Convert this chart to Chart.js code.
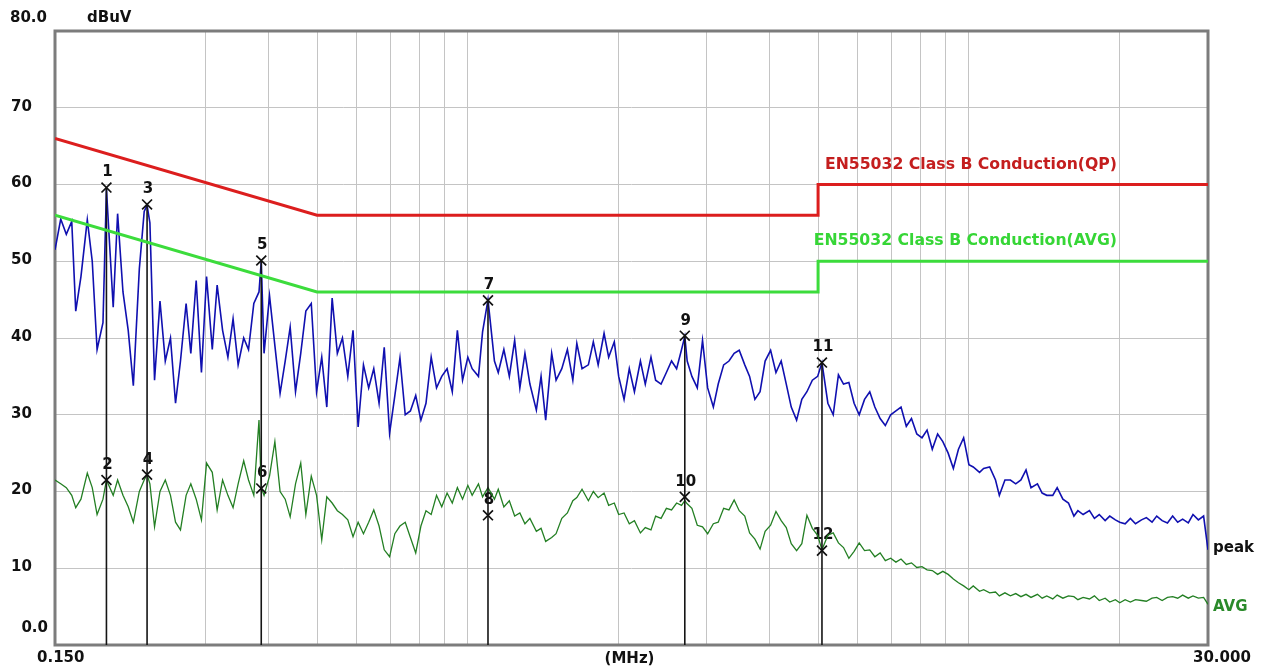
<!DOCTYPE html>
<html>
<head>
<meta charset="utf-8">
<script src="https://cdn.jsdelivr.net/npm/chart.js@4.4.1/dist/chart.umd.min.js"></script>
<style>
html,body{margin:0;padding:0;background:#ffffff;}
#wrap{width:1266px;height:670px;position:relative;}
</style>
</head>
<body>
<div id="wrap"><canvas id="c" width="1266" height="670"></canvas></div>
<script>
// ---- data ----
const freqMHz = [
0.150,0.154,0.158,0.162,0.165,0.169,0.174,0.178,0.182,0.187,
0.190,0.196,0.200,0.205,0.210,0.215,0.221,0.226,0.229,0.232,
0.237,0.243,0.249,0.255,0.261,0.267,0.274,0.280,0.287,0.294,
0.301,0.309,0.316,0.324,0.332,0.340,0.348,0.357,0.365,0.374,
0.383,0.387,0.392,0.402,0.412,0.422,0.432,0.442,0.453,0.464,
0.475,0.487,0.499,0.511,0.523,0.536,0.549,0.562,0.576,0.590,
0.604,0.619,0.634,0.649,0.665,0.681,0.698,0.715,0.732,0.750,
0.768,0.787,0.806,0.825,0.845,0.866,0.887,0.909,0.931,0.953,
0.976,1.00,1.02,1.05,1.07,1.097,1.13,1.15,1.18,1.21,
1.24,1.27,1.30,1.33,1.37,1.40,1.43,1.47,1.50,1.54,
1.58,1.62,1.65,1.69,1.74,1.78,1.82,1.87,1.91,1.96,
2.00,2.05,2.10,2.15,2.21,2.26,2.32,2.37,2.43,2.49,
2.55,2.61,2.67,2.71,2.74,2.80,2.87,2.94,3.01,3.09,
3.16,3.24,3.32,3.40,3.48,3.57,3.65,3.74,3.83,3.92,
4.02,4.12,4.22,4.32,4.42,4.53,4.64,4.75,4.87,4.99,
5.09,5.23,5.36,5.49,5.62,5.76,5.90,6.04,6.19,6.34,
6.49,6.65,6.81,6.98,7.15,7.32,7.50,7.68,7.87,8.06,
8.25,8.45,8.66,8.87,9.09,9.31,9.53,9.76,10.0,10.2,
10.5,10.7,11.0,11.3,11.5,11.8,12.1,12.4,12.7,13.0,
13.3,13.7,14.0,14.3,14.7,15.0,15.4,15.8,16.2,16.5,
16.9,17.4,17.8,18.2,18.7,19.1,19.6,20.0,20.5,21.0,
21.5,22.1,22.6,23.2,23.7,24.3,24.9,25.5,26.1,26.7,
27.4,28.0,28.7,29.4,30.0
];

const peakDbuv = [
51.5,55.5,53.5,55.2,43.5,48,55.4,50,38.5,42,
59.4,44,56.2,46,41,33.8,49,56.5,57.3,55,
34.5,44.8,37,40,31.5,37,44.5,38,47.5,35.5,
48,38.5,46.9,41,37.5,42.5,36.5,40,38.5,44.5,
46,50,38,45.5,39,32.8,37,41.4,33,38,
43.5,44.5,33,37.5,31,45.2,38,40,35,41,
28.4,36.5,33.5,36,31.5,38.8,27.6,32.5,37.4,30,
30.5,32.5,29.3,31.5,37.5,33.5,35,36,33,41,
34.5,37.5,36,35,40.8,45,37,35.5,38.5,35,
39.7,33.5,38,34,30.6,35,29.3,38,34.5,36,
38.5,34.5,39.3,36,36.5,39.5,36.5,40.6,37.5,39.5,
35,32,36,33,37,34,37.5,34.5,34,35.5,
37,36,38.5,40.2,37,35,33.5,39.7,33.5,31,
34,36.5,37,38,38.4,36.5,35,32,33,37,
38.4,35.5,37,34,31,29.3,32,33,34.5,35,
36.8,31.5,30,35.2,34,34.2,31.5,30,32,33,
31,29.5,28.6,30,30.5,31,28.5,29.5,27.5,27,
28,25.5,27.5,26.5,25,23,25.5,27,23.5,23.2,
22.5,23,23.2,21.5,19.5,21.5,21.5,21,21.5,22.8,
20.5,21,19.8,19.5,19.5,20.5,19,18.5,16.8,17.5,
17,17.5,16.5,17,16.2,16.8,16.3,16,15.8,16.5,
15.8,16.3,16.6,16,16.8,16.2,15.9,16.8,16,16.4,
15.9,17,16.3,16.8,12.4
];

const avgDbuv = [
21.5,21,20.5,19.5,17.9,19,22.4,20.5,17,19,
21.5,19.5,21.5,19.5,18,16,20,21.5,22.2,21,
15.4,20,21.5,19.5,16,15,19.5,21,19,16.3,
23.7,22.5,17.6,21.5,19.5,17.9,21,24,21.5,19.5,
29.3,20.5,19.5,22,26.5,20,19,16.7,21,23.7,
17,22,19.5,13.7,19.3,18.5,17.5,17,16.3,14.1,
16,14.5,16,17.6,15.5,12.4,11.5,14.5,15.5,16,
14,12,15.5,17.5,17,19.5,18,19.8,18.5,20.5,
19,20.8,19.5,21,19.3,20.5,19,20.3,18,18.8,
16.8,17.2,15.8,16.5,14.8,15.2,13.5,14,14.5,16.5,
17.2,18.8,19.2,20.3,18.8,20,19.2,19.8,18.2,18.5,
17,17.2,15.8,16.2,14.6,15.3,15,16.8,16.5,17.8,
17.6,18.5,18.2,18.8,18.4,17.8,15.6,15.4,14.5,15.8,
16,17.8,17.6,18.9,17.5,16.8,14.6,13.8,12.5,14.8,
15.6,17.4,16.2,15.3,13.2,12.3,13.2,16.9,15.2,14.3,
12.4,14.3,14.6,13.3,12.7,11.3,12.2,13.3,12.3,12.4,
11.5,12,11,11.3,10.8,11.2,10.5,10.7,10.1,10.2,
9.8,9.7,9.2,9.6,9.2,8.6,8.1,7.7,7.2,7.7,
7,7.2,6.8,6.9,6.4,6.8,6.4,6.7,6.3,6.6,
6.2,6.6,6.1,6.4,6,6.5,6.1,6.4,6.3,5.9,
6.2,6,6.4,5.8,6.1,5.6,5.9,5.5,5.9,5.6,
5.9,5.8,5.7,6.1,6.2,5.8,6.2,6.3,6.1,6.5,
6.1,6.4,6.1,6.2,5.3
];

const qpLimitFreq = [0.15, 0.5, 5, 5, 30];
const qpLimitDbuv = [66, 56, 56, 60, 60];
const avLimitFreq = [0.15, 0.5, 5, 5, 30];
const avLimitDbuv = [56, 46, 46, 50, 50];

const markerNo   = [1, 2, 3, 4, 5, 6, 7, 8, 9, 10, 11, 12];
const markerFreq = [0.190, 0.190, 0.229, 0.229, 0.387, 0.387, 1.097, 1.097, 2.71, 2.71, 5.09, 5.09];
const markerDbuv = [59.6, 21.5, 57.4, 22.2, 50.1, 20.4, 44.9, 16.9, 40.3, 19.3, 36.8, 12.3];

const xGridMHz = [0.3,0.4,0.5,0.6,0.7,0.8,0.9,1,2,3,4,5,6,7,8,9,10,20];
const yTickValues = [0,10,20,30,40,50,60,70,80];
const yTickLabels = ['0.0','10','20','30','40','50','60','70','80.0'];
const xEdgeValues = [0.15, 30];
const xEdgeLabels = ['0.150', '30.000'];
const yUnit = 'dBuV';
const xUnit = '(MHz)';
const qpLimitName = 'EN55032 Class B Conduction(QP)';
const avLimitName = 'EN55032 Class B Conduction(AVG)';
const peakName = 'peak';
const avgName = 'AVG';

// ---- build datasets ----
const pairs = (xs, ys) => xs.map((x, i) => ({x: x, y: ys[i]}));

const datasets = [];
datasets.push({label:'markers', data: pairs(markerFreq, markerDbuv), showLine:false,
  pointStyle:'crossRot', pointRadius:7, pointBorderColor:'#111', pointBorderWidth:1.7,
  pointBackgroundColor:'#111', order:0});
datasets.push({label:qpLimitName, data: pairs(qpLimitFreq, qpLimitDbuv), borderColor:'#dc1e1e',
  borderWidth:3, pointRadius:0, order:1});
datasets.push({label:avLimitName, data: pairs(avLimitFreq, avLimitDbuv), borderColor:'#3cdc3c',
  borderWidth:3, pointRadius:0, order:1});
for (let i = 0; i < markerNo.length; i += 2) {
  datasets.push({label:'mline'+markerNo[i], data:[{x:markerFreq[i], y:markerDbuv[i]}, {x:markerFreq[i], y:0}],
    borderColor:'#151515', borderWidth:1.6, pointRadius:0, order:2});
}
datasets.push({label:peakName, data: pairs(freqMHz, peakDbuv), borderColor:'#1010b0',
  borderWidth:1.6, pointRadius:0, order:3});
datasets.push({label:avgName, data: pairs(freqMHz, avgDbuv), borderColor:'#237f23',
  borderWidth:1.3, pointRadius:0, order:4});

const FONT = '"DejaVu Sans", sans-serif';

const decor = {
  id:'decor',
  beforeDatasetsDraw(chart) {
    const ctx = chart.ctx, a = chart.chartArea;
    const xs = chart.scales.x, ys = chart.scales.y;
    ctx.save();
    // frame
    ctx.strokeStyle = '#7c7c7c';
    ctx.lineWidth = 3;
    ctx.strokeRect(a.left, a.top, a.right - a.left, a.bottom - a.top);
    // marker numbers (drawn under the traces)
    ctx.fillStyle = '#111';
    ctx.font = 'bold 15px ' + FONT;
    ctx.textAlign = 'center';
    ctx.textBaseline = 'middle';
    markerNo.forEach((n, i) => {
      const px = xs.getPixelForValue(markerFreq[i]);
      const py = ys.getPixelForValue(markerDbuv[i]);
      ctx.fillText(String(n), px + 1, py - 15);
    });
    ctx.restore();
  },
  afterDraw(chart) {
    const ctx = chart.ctx, a = chart.chartArea;
    const xs = chart.scales.x, ys = chart.scales.y;
    ctx.save();
    ctx.font = 'bold 15px ' + FONT;
    ctx.fillStyle = '#111';
    ctx.textBaseline = 'middle';
    // y tick labels
    yTickValues.forEach((v, i) => {
      const py = ys.getPixelForValue(v);
      if (v === 80) { ctx.textAlign = 'left'; ctx.fillText(yTickLabels[i], 10, py - 13); }
      else if (v === 0) { ctx.textAlign = 'right'; ctx.fillText(yTickLabels[i], 48, py - 17); }
      else { ctx.textAlign = 'left'; ctx.fillText(yTickLabels[i], 11, py - 1); }
    });
    ctx.textAlign = 'left';
    ctx.fillText(yUnit, 87, ys.getPixelForValue(80) - 13);
    // x labels
    ctx.textAlign = 'left';
    ctx.fillText(xEdgeLabels[0], xs.getPixelForValue(xEdgeValues[0]) - 18, a.bottom + 13);
    ctx.fillText(xEdgeLabels[1], xs.getPixelForValue(xEdgeValues[1]) - 15, a.bottom + 13);
    ctx.textAlign = 'center';
    ctx.fillText(xUnit, (a.left + a.right) / 2 - 2, a.bottom + 14);
    // limit names
    ctx.font = 'bold 15.7px ' + FONT;
    ctx.textAlign = 'right';
    ctx.fillStyle = '#c41e1e';
    ctx.fillText(qpLimitName, 1117, ys.getPixelForValue(60) - 20);
    ctx.fillStyle = '#36d636';
    ctx.fillText(avLimitName, 1117, ys.getPixelForValue(50) - 20);
    // trace names
    ctx.font = 'bold 15px ' + FONT;
    ctx.textAlign = 'left';
    ctx.fillStyle = '#111';
    ctx.fillText(peakName, a.right + 5, ys.getPixelForValue(12.6));
    ctx.fillStyle = '#2a8a2a';
    ctx.fillText(avgName, a.right + 5, ys.getPixelForValue(5.0));
    ctx.restore();
  }
};

new Chart(document.getElementById('c'), {
  type:'line',
  data:{datasets},
  options:{
    responsive:false,
    devicePixelRatio:1,
    animation:false,
    events:[],
    layout:{padding:{left:55, top:31, right:58, bottom:25}},
    plugins:{legend:{display:false}, tooltip:{enabled:false}},
    elements:{line:{tension:0}},
    scales:{
      x:{type:'logarithmic', min:0.15, max:30,
        afterBuildTicks:(s) => { s.ticks = xGridMHz.map(v => ({value:v})); },
        ticks:{display:false},
        grid:{color:'#c4c4c4', lineWidth:1, drawTicks:false},
        border:{display:false}},
      y:{type:'linear', min:0, max:80,
        afterBuildTicks:(s) => { s.ticks = yTickValues.map(v => ({value:v})); },
        ticks:{display:false},
        grid:{color:'#c4c4c4', lineWidth:1, drawTicks:false},
        border:{display:false}}
    }
  },
  plugins:[decor]
});
</script>
</body>
</html>
